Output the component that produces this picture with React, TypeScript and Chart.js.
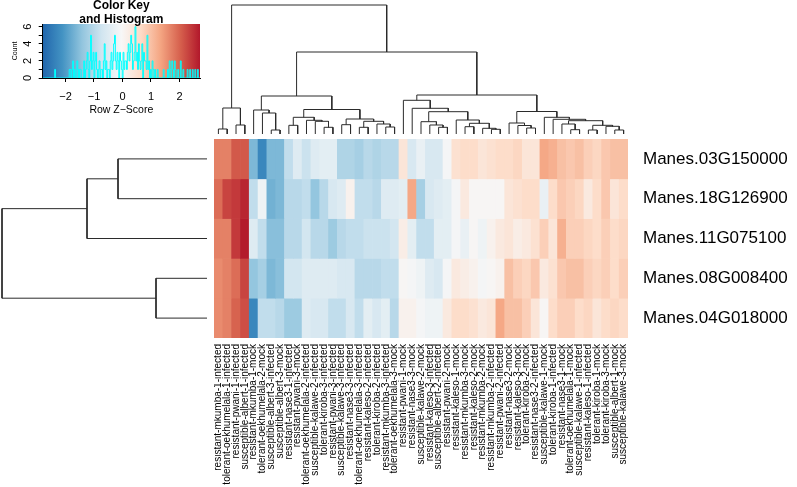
import React, { useEffect, useRef } from "react";
import { Chart, registerables } from "chart.js";

Chart.register(...registerables);

const FONT = '"Liberation Sans", Arial, Helvetica, sans-serif';
Chart.defaults.font.family = FONT;

// ---------------- data ----------------
const ROW_LABELS = [
  "Manes.03G150000",
  "Manes.18G126900",
  "Manes.11G075100",
  "Manes.08G008400",
  "Manes.04G018000",
];

const COL_LABELS = [
  "resistant-mkumba-1-infected",
  "tolerant-oekhumelala-1-infected",
  "resistant-pwani-1-infected",
  "susceptible-albert-1-infected",
  "resistant-mkumba-1-mock",
  "tolerant-oekhumelala-2-mock",
  "susceptible-albert-3-infected",
  "susceptible-albert-3-mock",
  "resistant-nase3-1-infected",
  "resistant-pwani-3-mock",
  "tolerant-oekhumelala-2-infected",
  "susceptible-kalawe-2-infected",
  "tolerant-kiroba-3-infected",
  "resistant-pwani-3-infected",
  "susceptible-kalawe-3-infected",
  "resistant-nase3-3-infected",
  "tolerant-oekhumelala-3-infected",
  "resistant-kaleso-2-infected",
  "tolerant-kiroba-2-infected",
  "resistant-mkumba-3-infected",
  "tolerant-oekhumelala-3-mock",
  "resistant-pwani-1-mock",
  "resistant-nase3-3-mock",
  "susceptible-kalawe-2-mock",
  "resistant-kaleso-3-infected",
  "susceptible-albert-2-infected",
  "resistant-pwani-2-mock",
  "resistant-kaleso-1-mock",
  "resistant-mkumba-3-mock",
  "resistant-kaleso-2-mock",
  "resistant-mkumba-2-mock",
  "resistant-mkumba-2-infected",
  "resistant-pwani-2-infected",
  "resistant-nase3-2-mock",
  "resistant-kaleso-3-mock",
  "tolerant-kiroba-2-mock",
  "resistant-nase3-2-infected",
  "susceptible-kalawe-1-mock",
  "tolerant-kiroba-1-infected",
  "resistant-nase3-1-mock",
  "tolerant-oekhumelala-1-mock",
  "susceptible-kalawe-1-infected",
  "resistant-kaleso-1-infected",
  "tolerant-kiroba-1-mock",
  "tolerant-kiroba-3-mock",
  "susceptible-albert-1-mock",
  "susceptible-kalawe-3-mock",
];

// Row Z-scores, one array per gene, in column display order
const Z_03G150000 = [
  1.7, 1.7, 2.1, 2.1, -1.6, -2.3, -1.6, -1.6, -0.9, -0.5, -0.8, -0.5, -0.4, -0.4, -1.1, -1.1,
  -1.2, -1.0, -1.1, -1.0, -1.0, 0.4, -0.6, -0.3, -0.6, -0.6, -0.1, 0.5, 0.6, 0.6, 0.4, 0.5,
  0.6, 0.6, 0.7, 0.4, 0.4, 1.3, 1.2, 1.0, 0.9, 1.0, 0.8, 0.7, 0.9, 1.0, 1.0,
];
const Z_18G126900 = [
  1.9, 2.3, 2.4, 2.6, -0.9, -0.2, -1.7, -1.6, -1.0, -1.0, -0.9, -1.4, -1.0, -0.6, -0.5, 0.1,
  -0.9, -0.9, -1.0, -0.5, -0.5, -0.4, 1.3, -1.2, -0.6, -0.5, -0.4, -0.1, 0.3, 0.0, 0.0, 0.0,
  0.0, 0.4, 0.5, 0.6, 0.6, -0.3, 0.6, 0.9, 0.8, 0.7, 0.3, 0.6, 0.9, 0.4, 0.6,
];
const Z_11G075100 = [
  1.7, 1.7, 2.4, 2.7, -0.5, -0.9, -1.5, -1.5, -1.0, -1.0, -0.7, -1.0, -1.0, -1.3, -1.0, -0.9,
  -0.9, -0.8, -0.8, -0.8, -0.7, 0.2, -0.4, -0.9, -0.9, -0.4, -0.4, -0.1, -0.3, 0.0, -0.2, 0.1,
  0.3, 0.4, 0.2, 0.3, 0.5, 0.8, 0.4, 1.2, 0.8, 0.8, 0.7, 0.6, 0.8, 0.6, 0.7,
];
const Z_08G008400 = [
  1.6, 1.7, 1.9, 2.3, -1.4, -1.2, -1.6, -1.5, -0.7, -0.7, -0.5, -0.5, -0.5, -0.5, -0.6, -0.6,
  -1.0, -1.0, -1.0, -0.9, -0.9, 0.0, -0.1, -0.2, -0.5, -0.6, -0.1, 0.3, 0.2, 0.1, -0.1, 0.0,
  0.1, 1.0, 0.8, 0.7, 0.9, 0.3, 0.5, 0.9, 1.0, 1.0, 0.8, 0.7, 0.8, 0.6, 0.8,
];
const Z_04G018000 = [
  1.6, 1.7, 2.0, 2.2, -2.3, -0.9, -0.9, -1.0, -1.3, -1.3, -0.5, -0.6, -0.6, -0.9, -0.9, -0.6,
  -0.9, -0.4, -0.6, -0.4, -1.0, 0.1, 0.1, -0.1, -0.2, -0.2, 0.3, 0.6, 0.6, 0.5, 0.3, 0.4,
  1.3, 1.0, 1.0, 0.8, 0.4, 0.0, 0.6, 0.8, 0.8, 0.6, 0.7, 0.4, 0.6, 0.7, 0.6,
];
const Z_ROWS = [Z_03G150000, Z_18G126900, Z_11G075100, Z_08G008400, Z_04G018000];

// Column dendrogram (hclust-style merge: negative = leaf position, positive = earlier merge)
const COL_MERGE = [
  [-7, -8], [-1, -2], [-3, -4], [-6, 1], [-5, 4], [2, 3],
  [-9, -10], [-13, -14], [-12, 8], [-11, 9], [7, 10],
  [-15, -16], [-17, -18], [-20, -21], [-19, 14], [13, 15], [12, 16], [11, 17], [5, 18],
  [-26, -27], [-25, 20], [-24, 21], [-29, -30], [-32, -33], [-31, 24], [23, 25], [-28, 26],
  [22, 27], [-23, 28], [-22, 29],
  [-36, -37], [-35, 31], [-34, 32], [-41, -42], [-40, 34], [-43, -44], [-46, -47], [-45, 37],
  [36, 38], [35, 39], [-39, 40], [-38, 41], [33, 42], [30, 43], [19, 44], [6, 45],
];
const COL_HEIGHT = [
  4, 5, 9, 21, 24, 26,
  8.7, 6.7, 12.7, 13.7, 16.7,
  9.3, 6.7, 7, 10, 12.7, 15, 24.5, 38,
  6.7, 9, 12.3, 7.3, 4.7, 5.7, 10.7, 14,
  22.3, 25.7, 33.7,
  6, 8.5, 11, 4.3, 10, 4, 4, 7.7,
  8.7, 13.3, 14.7, 16.7, 22.5, 39, 82, 129,
];

// Row dendrogram
const ROW_MERGE = [[-1, -2], [-4, -5], [1, -3], [3, 2]];
const ROW_HEIGHT = [89, 51, 120, 205];

// Colour key / histogram
const KEY_MIN = -2.8;
const KEY_MAX = 2.72;
const HIST_START = -2.8;
const HIST_BIN = 0.03;
const HIST_COUNTS = [
  0, 0, 0, 0, 0, 0, 0, 0, 0, 0, 0, 0, 0, 0, 1, 0, 0, 0, 0, 0,
  0, 0, 0, 0, 0, 0, 0, 0, 0, 0, 0, 1, 1, 0, 1, 2, 0, 1, 0, 0,
  2, 1, 0, 1, 1, 0, 0, 0, 2, 0, 1, 2, 3, 1, 0, 2, 5, 1, 2, 3,
  0, 2, 3, 1, 0, 1, 2, 0, 1, 1, 0, 2, 4, 1, 2, 0, 1, 1, 0, 2,
  3, 1, 2, 4, 5, 2, 1, 3, 2, 0, 3, 2, 1, 0, 3, 1, 2, 2, 1, 3,
  4, 2, 3, 5, 4, 1, 2, 3, 6, 2, 3, 1, 4, 2, 1, 2, 4, 0, 3, 2,
  2, 1, 5, 1, 2, 0, 1, 0, 2, 1, 0, 1, 0, 0, 1, 0, 0, 0, 0, 0,
  0, 1, 0, 0, 0, 0, 1, 0, 2, 1, 0, 2, 1, 0, 2, 1, 0, 0, 1, 0,
  0, 2, 0, 0, 1, 0, 0, 0, 0, 1, 0, 0, 1, 0, 0, 1, 0, 0, 1, 0,
  0, 1, 0, 0,
];
const KEY_TICKS = [-2, -1, 0, 1, 2];
const COUNT_TICKS = [0, 1, 2, 3, 4, 5, 6];
const COUNT_LABELS = [0, 2, 4, 6];
const PALETTE = [
  "#2166AC", "#4393C3", "#92C5DE", "#D1E5F0", "#F7F7F7",
  "#FDDBC7", "#F4A582", "#D6604D", "#B2182B",
];

// ---------------- helpers ----------------
function hexRgb(h: string): number[] {
  return [1, 3, 5].map((i) => parseInt(h.slice(i, i + 2), 16));
}
function zColor(z: number): string {
  const t = Math.min(1, Math.max(0, (z - KEY_MIN) / (KEY_MAX - KEY_MIN)));
  const p = t * (PALETTE.length - 1);
  const i = Math.min(PALETTE.length - 2, Math.floor(p));
  const f = p - i;
  const a = hexRgb(PALETTE[i]);
  const b = hexRgb(PALETTE[i + 1]);
  const c = a.map((v, k) => Math.round(v + (b[k] - v) * f));
  return `rgb(${c[0]},${c[1]},${c[2]})`;
}

type Pt = { x: number; y: number };
function dendroSegments(merge: number[][], heights: number[], sideways: boolean): Pt[] {
  const pos: number[] = [];
  const pts: Pt[] = [];
  const info = (c: number) => (c < 0 ? { p: -c - 1, h: 0 } : { p: pos[c - 1], h: heights[c - 1] });
  merge.forEach(([a, b], j) => {
    const L = info(a);
    const R = info(b);
    const H = heights[j];
    pos[j] = (L.p + R.p) / 2;
    const seg = [
      [L.p, L.h],
      [L.p, H],
      [R.p, H],
      [R.p, R.h],
    ];
    seg.forEach(([p, h]) => pts.push(sideways ? { x: h, y: p } : { x: p, y: h }));
    pts.push({ x: NaN, y: NaN });
  });
  return pts;
}

const baseOpts = {
  animation: false as const,
  responsive: false,
  maintainAspectRatio: false,
  events: [] as any[],
  plugins: { legend: { display: false }, tooltip: { enabled: false }, title: { display: false } },
};

// ---------------- component ----------------
export default function App() {
  const keyRef = useRef<HTMLCanvasElement>(null);
  const colRef = useRef<HTMLCanvasElement>(null);
  const rowRef = useRef<HTMLCanvasElement>(null);
  const heatRef = useRef<HTMLCanvasElement>(null);

  useEffect(() => {
    const charts: Chart[] = [];

    // ---- colour key with histogram ----
    const histPts: Pt[] = HIST_COUNTS.map((c, i) => ({ x: HIST_START + i * HIST_BIN, y: c }));
    histPts.push({
      x: HIST_START + HIST_COUNTS.length * HIST_BIN,
      y: HIST_COUNTS[HIST_COUNTS.length - 1],
    });

    const keyPlugin = {
      id: "keyDecor",
      beforeDraw(chart: any) {
        const { ctx, chartArea: a, scales } = chart;
        const x0 = scales.x.getPixelForValue(KEY_MIN);
        const x1 = scales.x.getPixelForValue(KEY_MAX);
        const g = ctx.createLinearGradient(x0, 0, x1, 0);
        PALETTE.forEach((c, i) => g.addColorStop(i / (PALETTE.length - 1), c));
        ctx.save();
        ctx.fillStyle = g;
        ctx.fillRect(a.left, a.top, a.right - a.left, a.bottom - a.top);
        ctx.restore();
      },
      afterDraw(chart: any) {
        const { ctx, chartArea: a, scales } = chart;
        ctx.save();
        ctx.fillStyle = "#000";
        ctx.textAlign = "center";
        ctx.textBaseline = "middle";
        const cx = (a.left + a.right) / 2;
        ctx.font = `bold 12px ${FONT}`;
        ctx.fillText("Color Key", cx, 6);
        ctx.fillText("and Histogram", cx, 20);
        ctx.font = `11px ${FONT}`;
        KEY_TICKS.forEach((v) => {
          ctx.fillText(String(v).replace("-", "\u2212"), scales.x.getPixelForValue(v), 97);
        });
        ctx.font = `10.5px ${FONT}`;
        ctx.fillText("Row Z\u2212Score", cx, 110);
        ctx.font = `11px ${FONT}`;
        COUNT_LABELS.forEach((v) => {
          ctx.save();
          ctx.translate(28, scales.y.getPixelForValue(v));
          ctx.rotate(-Math.PI / 2);
          ctx.fillText(String(v), 0, 0);
          ctx.restore();
        });
        ctx.font = `7px ${FONT}`;
        ctx.save();
        ctx.translate(15, (a.top + a.bottom) / 2);
        ctx.rotate(-Math.PI / 2);
        ctx.fillText("Count", 0, 0);
        ctx.restore();
        ctx.restore();
      },
    };

    if (keyRef.current) {
      charts.push(
        new Chart(keyRef.current, {
          type: "scatter",
          data: {
            datasets: [
              {
                data: histPts,
                showLine: true,
                stepped: "before",
                borderColor: "#00FFFF",
                borderWidth: 1,
                pointRadius: 0,
              } as any,
            ],
          },
          options: {
            ...baseOpts,
            layout: { padding: { left: 0, top: 24, right: 15, bottom: 0 } },
            scales: {
              x: {
                type: "linear",
                min: KEY_MIN,
                max: KEY_MAX,
                afterBuildTicks: (s: any) => {
                  s.ticks = KEY_TICKS.map((v) => ({ value: v }));
                },
                afterFit: (s: any) => {
                  s.height = 47;
                  s.paddingLeft = 0;
                  s.paddingRight = 0;
                },
                ticks: { display: false },
                grid: { display: true, drawOnChartArea: false, drawTicks: true, tickLength: 4, color: "#000" },
                border: { display: true, color: "#000" },
              },
              y: {
                type: "linear",
                min: 0,
                max: 6 / 0.95,
                afterBuildTicks: (s: any) => {
                  s.ticks = COUNT_TICKS.map((v) => ({ value: v }));
                },
                afterFit: (s: any) => {
                  s.width = 42.7;
                  s.paddingTop = 0;
                  s.paddingBottom = 0;
                },
                ticks: { display: false },
                grid: { display: true, drawOnChartArea: false, drawTicks: true, tickLength: 4, color: "#000" },
                border: { display: true, color: "#000" },
              },
            },
          } as any,
          plugins: [keyPlugin],
        })
      );
    }

    // ---- column dendrogram ----
    if (colRef.current) {
      charts.push(
        new Chart(colRef.current, {
          type: "scatter",
          data: {
            datasets: [
              {
                data: dendroSegments(COL_MERGE, COL_HEIGHT, false),
                showLine: true,
                spanGaps: false,
                borderColor: "#2b2b2b",
                borderWidth: 1,
                pointRadius: 0,
              } as any,
            ],
          },
          options: {
            ...baseOpts,
            layout: { padding: 0 },
            scales: {
              x: { type: "linear", min: -0.5, max: COL_LABELS.length - 0.5, display: false },
              y: { type: "linear", min: 0, max: 134, display: false },
            },
          } as any,
        })
      );
    }

    // ---- row dendrogram ----
    if (rowRef.current) {
      charts.push(
        new Chart(rowRef.current, {
          type: "scatter",
          data: {
            datasets: [
              {
                data: dendroSegments(ROW_MERGE, ROW_HEIGHT, true),
                showLine: true,
                spanGaps: false,
                borderColor: "#2b2b2b",
                borderWidth: 1,
                pointRadius: 0,
              } as any,
            ],
          },
          options: {
            ...baseOpts,
            layout: { padding: 0 },
            scales: {
              x: { type: "linear", min: 0, max: 207, reverse: true, display: false },
              y: { type: "linear", min: -0.5, max: ROW_LABELS.length - 0.5, reverse: true, display: false },
            },
          } as any,
        })
      );
    }

    // ---- heatmap ----
    if (heatRef.current) {
      charts.push(
        new Chart(heatRef.current, {
          type: "bar",
          data: {
            labels: COL_LABELS,
            datasets: Z_ROWS.map((row, r) => ({
              label: ROW_LABELS[r],
              data: row.map(() => [r, r + 1]),
              backgroundColor: row.map(zColor),
              borderWidth: 0,
              barPercentage: 1,
              categoryPercentage: 1,
              grouped: false,
            })) as any,
          },
          options: {
            ...baseOpts,
            layout: { padding: 0 },
            scales: {
              x: {
                type: "category",
                offset: true,
                grid: { display: false, drawTicks: false },
                border: { display: false },
                ticks: {
                  autoSkip: false,
                  minRotation: 90,
                  maxRotation: 90,
                  padding: 6,
                  color: "#000",
                  font: { family: FONT, size: 10 },
                },
                afterFit: (s: any) => {
                  s.height = 149;
                  s.paddingLeft = 0;
                  s.paddingRight = 0;
                },
              },
              y: {
                type: "linear",
                position: "right",
                min: 0,
                max: ROW_LABELS.length,
                reverse: true,
                grid: { display: false, drawTicks: false },
                border: { display: false },
                afterBuildTicks: (s: any) => {
                  s.ticks = ROW_LABELS.map((_, i) => ({ value: i + 0.5 }));
                },
                ticks: {
                  callback: (_v: any, i: number) => ROW_LABELS[i],
                  padding: 15,
                  color: "#000",
                  font: { family: FONT, size: 17 },
                },
                afterFit: (s: any) => {
                  s.width = 169;
                  s.paddingTop = 0;
                  s.paddingBottom = 0;
                },
              },
            },
          } as any,
        })
      );
    }

    return () => charts.forEach((c) => c.destroy());
  }, []);

  const abs = (l: number, t: number, w: number, h: number) => ({
    position: "absolute" as const,
    left: l,
    top: t,
    width: w,
    height: h,
  });

  return (
    <div
      style={{
        position: "fixed",
        left: 0,
        top: 0,
        width: 797,
        height: 487,
        background: "#ffffff",
        overflow: "hidden",
      }}
    >
      <canvas ref={keyRef} width={215} height={125} style={abs(0, 0, 215, 125)} />
      <canvas ref={colRef} width={414} height={134} style={abs(214, 0, 414, 134)} />
      <canvas ref={rowRef} width={207} height={199} style={abs(0, 139, 207, 199)} />
      <canvas ref={heatRef} width={583} height={348} style={abs(214, 139, 583, 348)} />
    </div>
  );
}
